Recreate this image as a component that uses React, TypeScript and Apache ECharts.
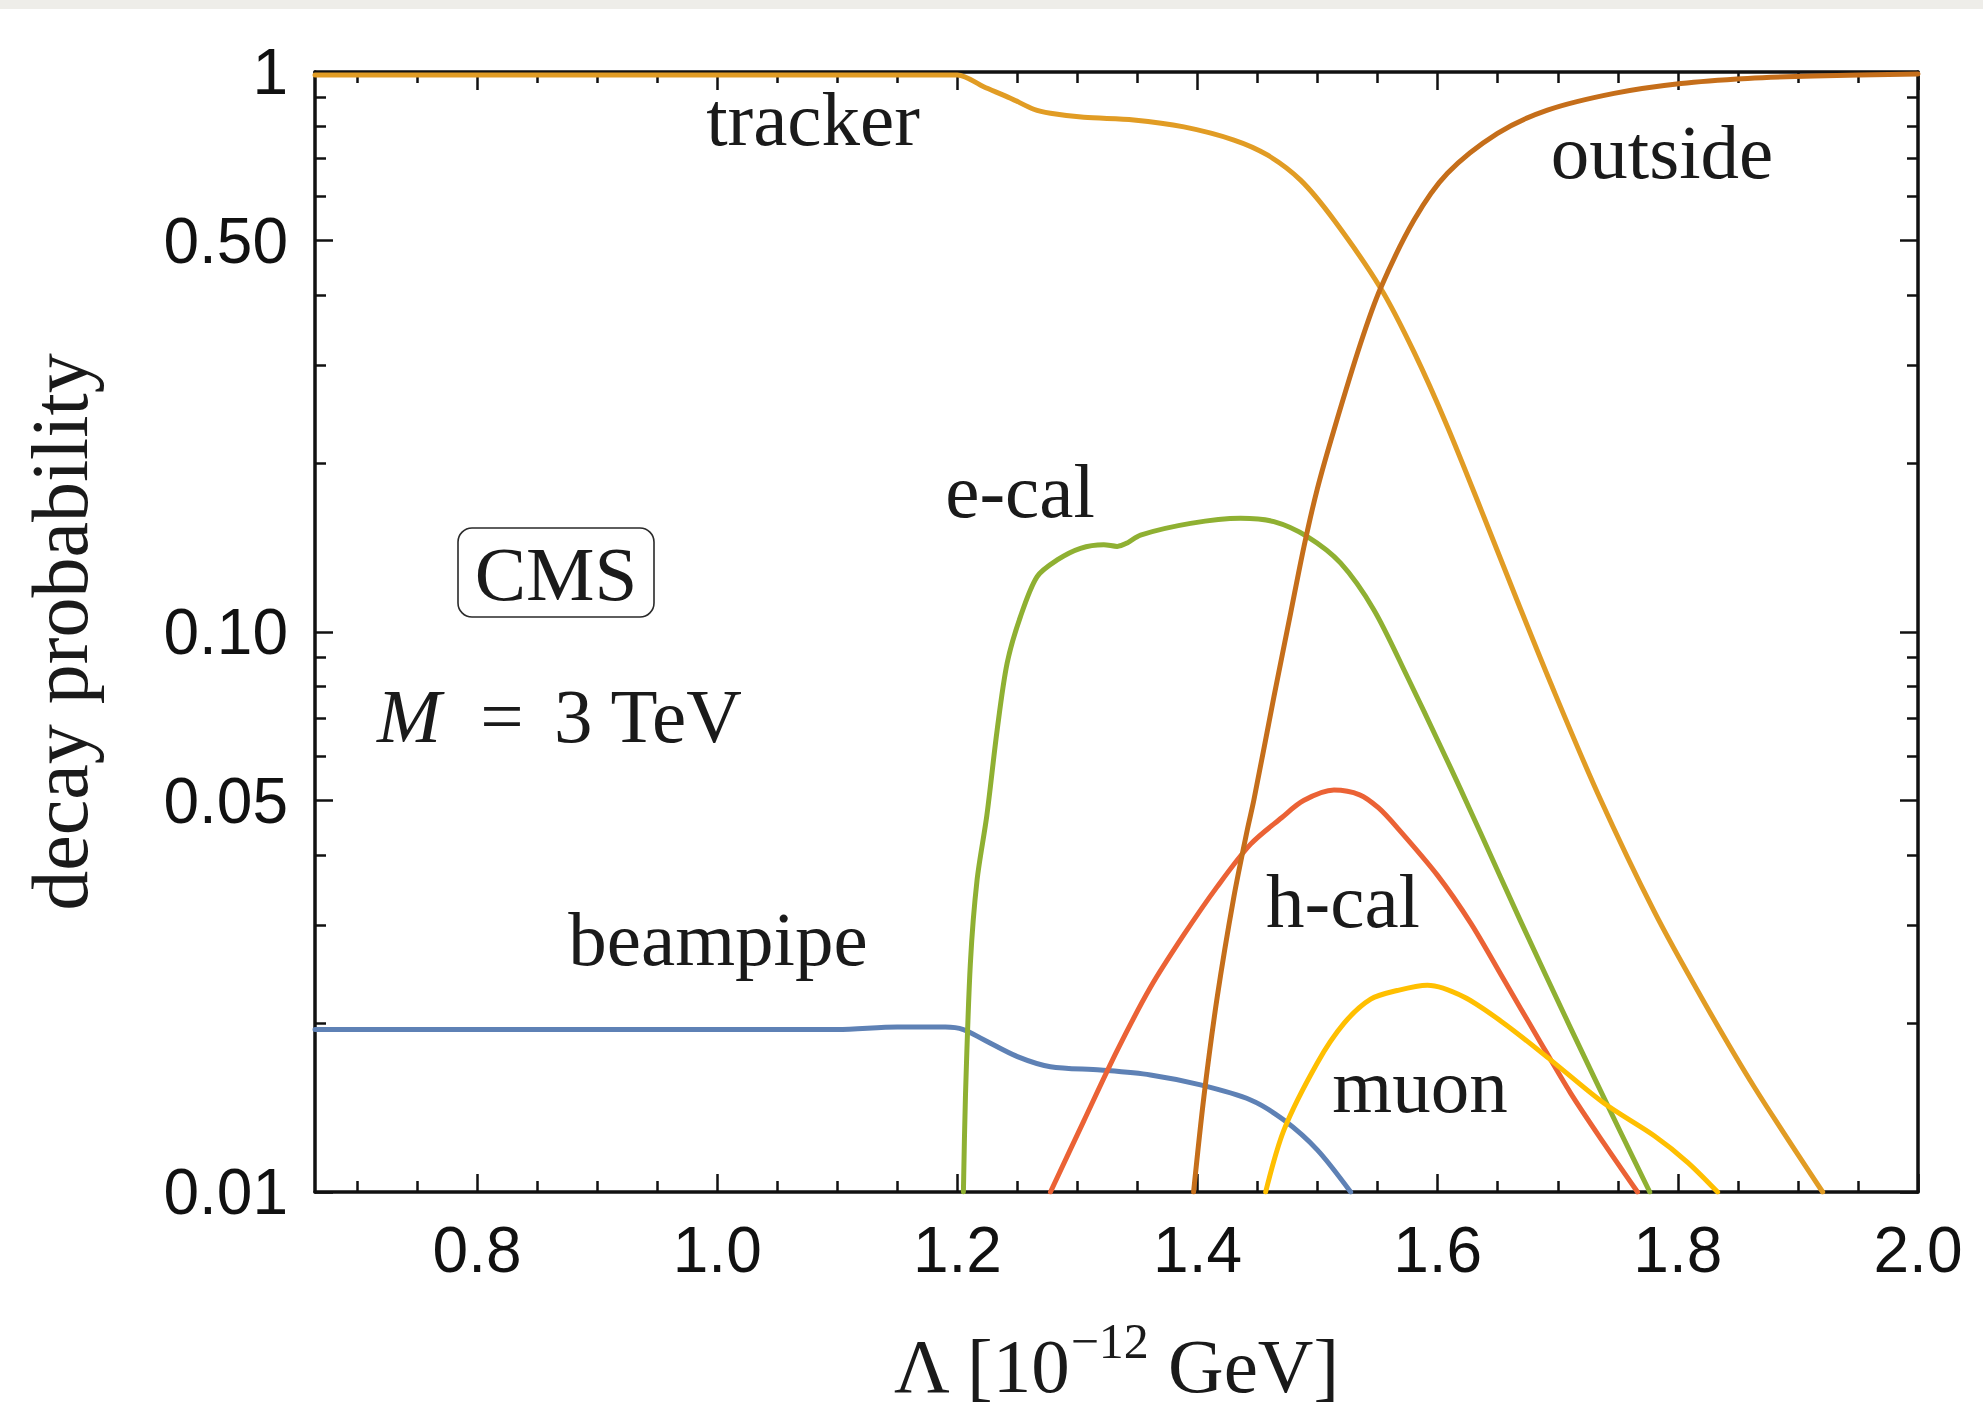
import React, { useEffect, useRef } from 'react';
import * as echarts from 'echarts';

// ---------- data (x = Λ [10^-12 GeV], y = decay probability) ----------
const X_MIN = 0.665;
const X_MAX = 2.0;
const Y_MIN = 0.01;
const Y_MAX = 1;

const xMajorTicks = [0.8, 1.0, 1.2, 1.4, 1.6, 1.8, 2.0];
const xMinorTicks = [0.7, 0.75, 0.85, 0.9, 0.95, 1.05, 1.1, 1.15, 1.25, 1.3, 1.35, 1.45, 1.5, 1.55, 1.65, 1.7, 1.75, 1.85, 1.9, 1.95];
const yMajorTicks = [0.01, 0.05, 0.1, 0.5, 1];
const yMinorTicks = [0.02, 0.03, 0.04, 0.06, 0.07, 0.08, 0.09, 0.2, 0.3, 0.4, 0.6, 0.7, 0.8, 0.9];

const beampipe = [
  [0.665, 0.0195], [1.1, 0.0195], [1.15, 0.0197], [1.19, 0.0197], [1.205, 0.0195],
  [1.222, 0.0187], [1.25, 0.01745], [1.2775, 0.01674], [1.3192, 0.01651], [1.3608, 0.01618],
  [1.4025, 0.01553], [1.4442, 0.0146], [1.4719, 0.01344], [1.4997, 0.01189], [1.5275, 0.01],
];

const tracker = [
  [0.665, 0.988], [1.2, 0.988], [1.2219, 0.941], [1.2442, 0.898], [1.2636, 0.858],
  [1.2775, 0.844], [1.3053, 0.83], [1.3469, 0.821], [1.3886, 0.798], [1.4303, 0.756],
  [1.4581, 0.711], [1.4858, 0.641], [1.5136, 0.544], [1.5525, 0.411], [1.5803, 0.316],
  [1.6081, 0.2326], [1.6386, 0.1603], [1.6664, 0.1135], [1.6942, 0.0809], [1.7331, 0.0516],
  [1.7803, 0.0317], [1.822, 0.0218], [1.8636, 0.0154], [1.9206, 0.01],
];

const ecal = [
  [1.205, 0.01], [1.2067, 0.0148], [1.2108, 0.0256], [1.2164, 0.0361], [1.2245, 0.047],
  [1.2331, 0.0668], [1.2414, 0.0879], [1.2525, 0.1065], [1.2664, 0.1256], [1.2831, 0.1345],
  [1.3025, 0.1411], [1.3219, 0.1432], [1.3331, 0.1422], [1.3414, 0.1442], [1.3525, 0.149],
  [1.3942, 0.1563], [1.4358, 0.1596], [1.4636, 0.1574], [1.4914, 0.148], [1.5192, 0.1327],
  [1.5469, 0.1095], [1.5747, 0.0832], [1.6025, 0.0624], [1.6192, 0.0523], [1.6358, 0.0437],
  [1.6692, 0.0304], [1.7108, 0.0196], [1.7525, 0.01276], [1.7766, 0.01],
];

const hcal = [
  [1.2775, 0.01], [1.3053, 0.0134], [1.3331, 0.0179], [1.3608, 0.0232], [1.3886, 0.0288],
  [1.4164, 0.0351], [1.4442, 0.0418], [1.47, 0.0466], [1.4883, 0.05], [1.5136, 0.0522],
  [1.535, 0.0512], [1.5508, 0.0485], [1.5664, 0.0447], [1.5997, 0.0368], [1.6275, 0.0302],
  [1.6553, 0.0239], [1.6831, 0.0189], [1.7108, 0.015], [1.7386, 0.0122], [1.7664, 0.01],
];

const outside = [
  [1.3967, 0.01], [1.4053, 0.0148], [1.4164, 0.0223], [1.4303, 0.0337], [1.4414, 0.0443],
  [1.4469, 0.0501], [1.4636, 0.0766], [1.4775, 0.108], [1.4886, 0.142], [1.4997, 0.18],
  [1.5136, 0.2295], [1.5358, 0.3277], [1.5525, 0.4113], [1.5803, 0.5441], [1.6081, 0.6594],
  [1.6498, 0.777], [1.6914, 0.855], [1.7469, 0.916], [1.8025, 0.954], [1.8581, 0.974],
  [1.9136, 0.984], [2.0, 0.992],
];

const muon = [
  [1.4567, 0.01], [1.4719, 0.0129], [1.4997, 0.017], [1.5219, 0.02], [1.5442, 0.0221],
  [1.5664, 0.0229], [1.5914, 0.0234], [1.6219, 0.0223], [1.6553, 0.02], [1.6942, 0.0172],
  [1.7386, 0.0144], [1.7803, 0.0126], [1.8081, 0.0113], [1.8331, 0.01],
];

const seriesList = [
  { name: 'beampipe', data: beampipe, color: '#5E81B5' },
  { name: 'tracker', data: tracker, color: '#E19C24' },
  { name: 'e-cal', data: ecal, color: '#8FB032' },
  { name: 'h-cal', data: hcal, color: '#EB6235' },
  { name: 'outside', data: outside, color: '#C56E1A' },
  { name: 'muon', data: muon, color: '#FFBF00' },
];

// ---------- styling ----------
const INK = '#111111';
const SERIF = '"Liberation Serif", "DejaVu Serif", serif';
const SANS = '"Liberation Sans", Arial, sans-serif';
const LABEL_SIZE = 77;
const TICK_FONT = 64;
const MAJOR_LEN = 18;
const MINOR_LEN = 11;

function xAxisDef(position: 'bottom' | 'top', ticks: number[], len: number, withLine: boolean, withLabel: boolean) {
  return {
    type: 'value',
    min: X_MIN,
    max: X_MAX,
    position,
    axisLine: { show: withLine, onZero: false, lineStyle: { color: INK, width: 3.5 } },
    axisTick: { show: true, inside: true, length: len, customValues: ticks, lineStyle: { color: INK, width: 2.5 } },
    axisLabel: withLabel
      ? {
          show: true,
          customValues: ticks,
          formatter: (v: number) => v.toFixed(1),
          fontFamily: SANS,
          fontSize: TICK_FONT,
          color: INK,
          margin: 26,
        }
      : { show: false },
    splitLine: { show: false },
    minorTick: { show: false },
  };
}

function yAxisDef(position: 'left' | 'right', ticks: number[], len: number, withLine: boolean, withLabel: boolean) {
  return {
    type: 'log',
    logBase: 10,
    min: Y_MIN,
    max: Y_MAX,
    position,
    axisLine: { show: withLine, onZero: false, lineStyle: { color: INK, width: 3.5 } },
    axisTick: { show: true, inside: true, length: len, customValues: ticks, lineStyle: { color: INK, width: 2.5 } },
    axisLabel: withLabel
      ? {
          show: true,
          customValues: ticks,
          formatter: (v: number) => {
            const r = Math.round(v * 100) / 100;
            return r >= 1 ? '1' : r.toFixed(2);
          },
          fontFamily: SANS,
          fontSize: TICK_FONT,
          color: INK,
          margin: 27,
        }
      : { show: false },
    splitLine: { show: false },
    minorTick: { show: false },
  };
}

function label(text: string, x: number, y: number, extra: any = {}) {
  return {
    type: 'text',
    x,
    y,
    silent: true,
    style: {
      text,
      fill: '#1a1a1a',
      font: `${LABEL_SIZE}px ${SERIF}`,
      align: 'center',
      verticalAlign: 'middle',
      ...extra,
    },
  };
}

export default function App() {
  const ref = useRef<HTMLDivElement>(null);

  useEffect(() => {
    if (!ref.current) return;
    const chart = echarts.init(ref.current, null, { renderer: 'svg' });

    const option: any = {
      animation: false,
      backgroundColor: '#ffffff',
      grid: { left: 315, top: 72, width: 1603, height: 1120, show: false },
      xAxis: [
        xAxisDef('bottom', xMajorTicks, MAJOR_LEN, true, true),
        xAxisDef('bottom', xMinorTicks, MINOR_LEN, false, false),
        xAxisDef('top', xMajorTicks, MAJOR_LEN, true, false),
        xAxisDef('top', xMinorTicks, MINOR_LEN, false, false),
      ],
      yAxis: [
        yAxisDef('left', yMajorTicks, MAJOR_LEN, true, true),
        yAxisDef('left', yMinorTicks, MINOR_LEN, false, false),
        yAxisDef('right', yMajorTicks, MAJOR_LEN, true, false),
        yAxisDef('right', yMinorTicks, MINOR_LEN, false, false),
      ],
      series: seriesList.map((s) => ({
        name: s.name,
        type: 'line',
        xAxisIndex: 0,
        yAxisIndex: 0,
        data: s.data,
        showSymbol: false,
        symbol: 'none',
        smooth: 0.3,
        clip: true,
        lineStyle: { color: s.color, width: 5, cap: 'round', join: 'round' },
        itemStyle: { color: s.color },
        emphasis: { disabled: true },
      })),
      graphic: [
        { type: 'rect', silent: true, shape: { x: 0, y: 0, width: 1983, height: 9 }, style: { fill: '#eeede9' } },
        label('tracker', 813, 119),
        label('outside', 1662, 152),
        label('e-cal', 1020, 491),
        label('h-cal', 1343, 901),
        label('muon', 1420, 1086),
        label('beampipe', 718, 939),
        {
          type: 'rect',
          silent: true,
          shape: { x: 458, y: 528, width: 196, height: 89, r: 14 },
          style: { fill: 'none', stroke: '#2a2a2a', lineWidth: 1.6 },
        },
        label('CMS', 556, 574),
        label('M', 409, 716, { font: `italic ${LABEL_SIZE}px ${SERIF}` }),
        label('=', 502, 716),
        label('3 TeV', 648, 716),
        {
          type: 'text',
          x: 60,
          y: 632,
          rotation: Math.PI / 2,
          silent: true,
          style: {
            text: 'decay probability',
            fill: '#1a1a1a',
            font: `80px ${SERIF}`,
            align: 'center',
            verticalAlign: 'middle',
          },
        },
        {
          type: 'text',
          x: 1116,
          y: 1366,
          silent: true,
          style: {
            text: '{n|Λ [10}{sup|−12}{n| GeV]}',
            align: 'center',
            verticalAlign: 'middle',
            fill: '#1a1a1a',
            rich: {
              n: { fontFamily: SERIF, fontSize: LABEL_SIZE, lineHeight: 100, fill: '#1a1a1a' },
              sup: { fontFamily: SERIF, fontSize: 50, lineHeight: 52, verticalAlign: 'top', fill: '#1a1a1a' },
            },
          },
        },
      ],
    };

    chart.setOption(option);
    return () => chart.dispose();
  }, []);

  return (
    <div
      ref={ref}
      style={{ position: 'absolute', left: 0, top: 0, width: 1983, height: 1412, background: '#ffffff' }}
    />
  );
}
